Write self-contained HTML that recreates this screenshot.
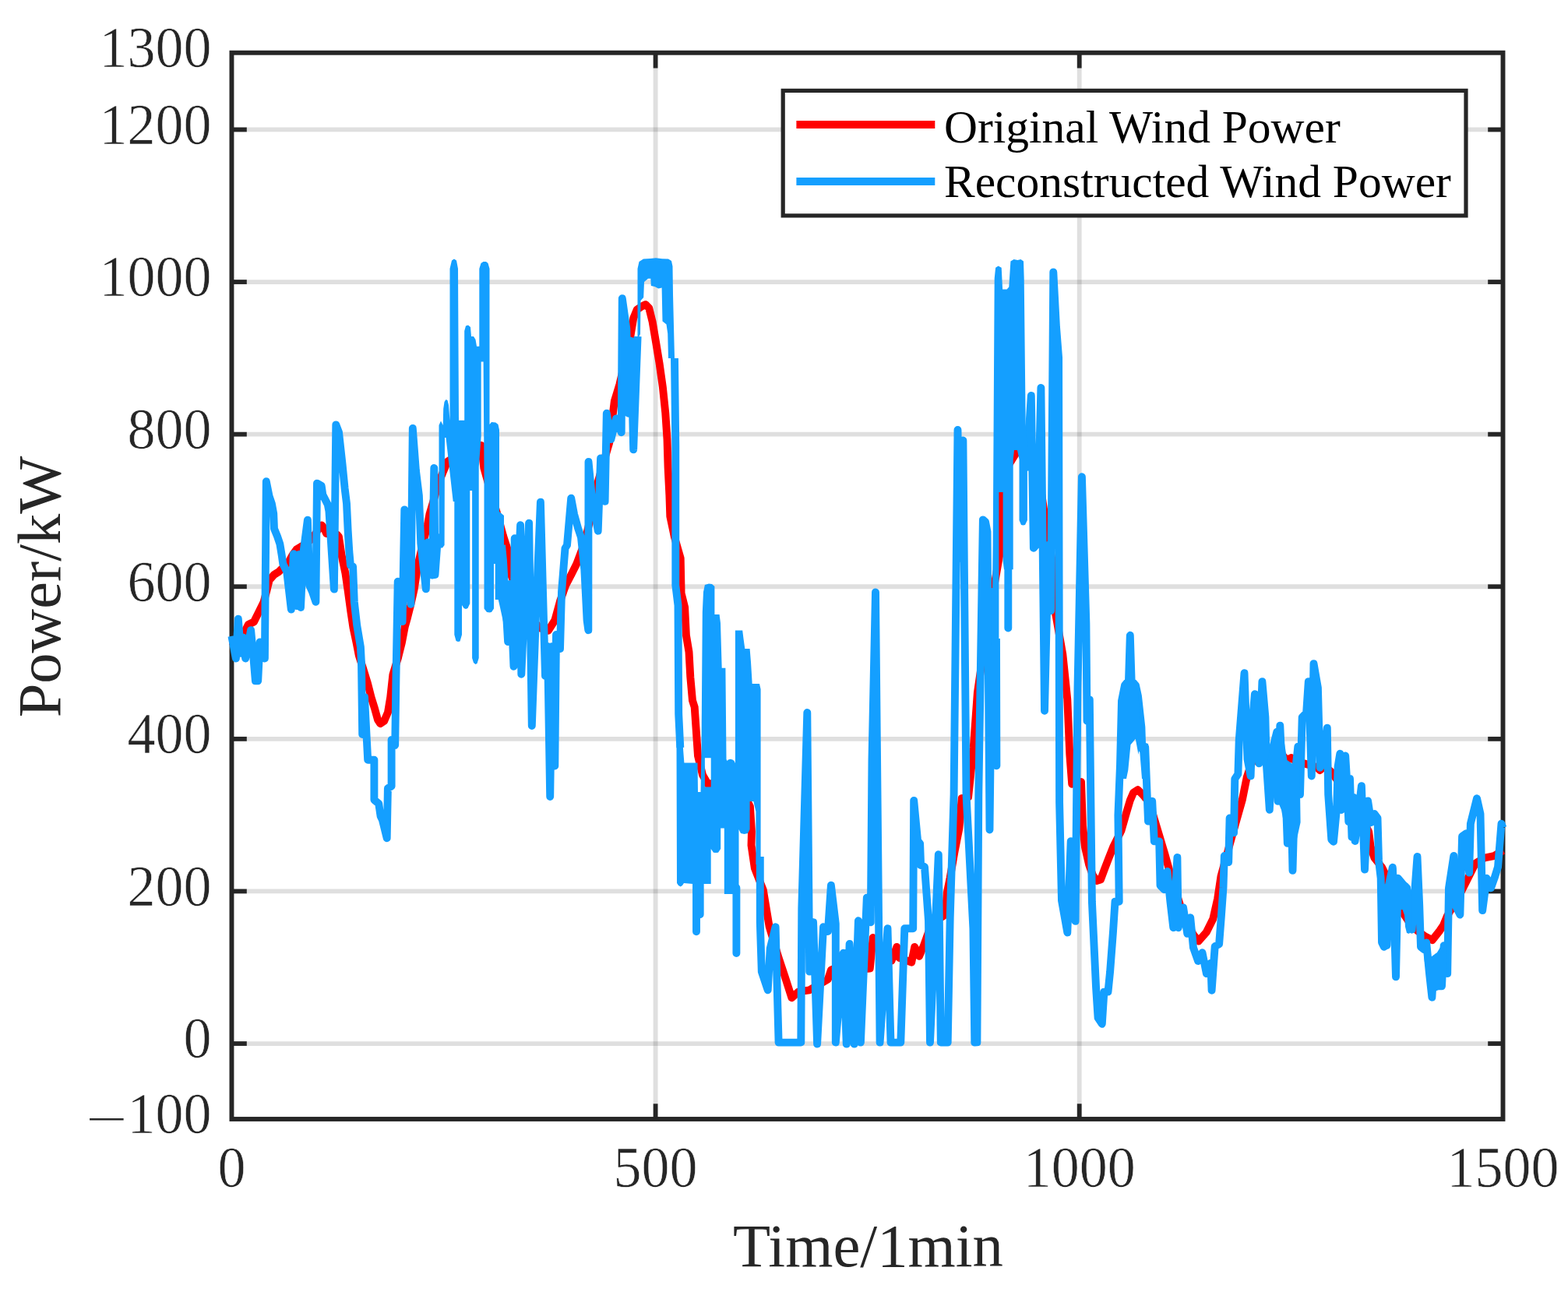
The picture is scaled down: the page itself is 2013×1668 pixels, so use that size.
<!DOCTYPE html>
<html><head><meta charset="utf-8"><title>Wind Power</title>
<style>html,body{margin:0;padding:0;background:#fff;overflow:hidden}svg{display:block}</style></head>
<body><svg width="2013" height="1668" viewBox="0 0 2013 1668">
<rect width="2013" height="1668" fill="#fff"/>
<g stroke="#262626" stroke-opacity="0.15" stroke-width="5.8"><line x1="297.5" y1="1340.05" x2="1929.5" y2="1340.05"/><line x1="297.5" y1="1144.45" x2="1929.5" y2="1144.45"/><line x1="297.5" y1="948.85" x2="1929.5" y2="948.85"/><line x1="297.5" y1="753.25" x2="1929.5" y2="753.25"/><line x1="297.5" y1="557.65" x2="1929.5" y2="557.65"/><line x1="297.5" y1="362.05" x2="1929.5" y2="362.05"/><line x1="297.5" y1="166.45" x2="1929.5" y2="166.45"/><line x1="841.58" y1="67.75" x2="841.58" y2="1437"/><line x1="1385.70" y1="67.75" x2="1385.70" y2="1437"/></g>
<g stroke="#262626" stroke-width="5.8"><line x1="297.5" y1="1340.05" x2="316.8" y2="1340.05"/><line x1="1910.2" y1="1340.05" x2="1929.5" y2="1340.05"/><line x1="297.5" y1="1144.45" x2="316.8" y2="1144.45"/><line x1="1910.2" y1="1144.45" x2="1929.5" y2="1144.45"/><line x1="297.5" y1="948.85" x2="316.8" y2="948.85"/><line x1="1910.2" y1="948.85" x2="1929.5" y2="948.85"/><line x1="297.5" y1="753.25" x2="316.8" y2="753.25"/><line x1="1910.2" y1="753.25" x2="1929.5" y2="753.25"/><line x1="297.5" y1="557.65" x2="316.8" y2="557.65"/><line x1="1910.2" y1="557.65" x2="1929.5" y2="557.65"/><line x1="297.5" y1="362.05" x2="316.8" y2="362.05"/><line x1="1910.2" y1="362.05" x2="1929.5" y2="362.05"/><line x1="297.5" y1="166.45" x2="316.8" y2="166.45"/><line x1="1910.2" y1="166.45" x2="1929.5" y2="166.45"/><line x1="841.58" y1="1437" x2="841.58" y2="1417.3"/><line x1="841.58" y1="67.75" x2="841.58" y2="87.5"/><line x1="1385.70" y1="1437" x2="1385.70" y2="1417.3"/><line x1="1385.70" y1="67.75" x2="1385.70" y2="87.5"/></g>
<rect x="297.45" y="67.75" width="1632.05" height="1369.25" fill="none" stroke="#262626" stroke-width="5.9"/>
<polyline fill="none" stroke="#ff0000" stroke-width="9.9" stroke-linejoin="round" stroke-linecap="butt" points="297.4,830.8 304.0,824.0 311.6,816.4 318.8,802.0 326.0,798.5 333.1,784.1 338.5,773.3 342.0,760.0 345.7,745.0 351.8,738.0 357.8,734.3 362.6,729.5 371.0,721.0 376.0,712.0 380.6,705.5 386.5,701.9 392.0,699.0 400.0,692.0 406.0,684.0 410.0,677.0 413.0,674.5 416.0,678.0 419.0,685.0 424.8,686.0 432.7,686.5 434.9,689.0 438.5,712.4 443.5,736.6 447.0,760.9 450.3,785.2 453.5,806.2 457.6,825.6 460.8,841.8 466.0,858.0 472.0,877.4 476.5,895.2 481.0,909.8 485.0,924.3 488.3,929.2 493.1,926.0 498.0,914.6 501.2,895.2 504.4,866.1 510.9,845.0 515.8,825.6 519.8,804.6 523.0,793.3 527.1,777.1 531.8,756.1 536.4,726.0 541.7,703.0 548.9,674.0 551.5,660.0 556.0,645.0 563.0,620.0 574.3,592.9 579.2,589.6 590.0,580.0 600.0,575.0 610.0,570.0 618.0,572.0 621.3,601.0 630.0,632.0 639.8,665.0 646.0,688.0 651.3,704.4 653.0,730.6 665.0,760.0 680.0,790.0 692.0,806.0 704.0,809.7 712.3,796.5 719.0,772.0 726.0,752.0 733.8,737.0 740.3,724.0 750.2,697.7 757.0,670.0 761.7,648.3 764.4,630.6 773.0,600.0 782.2,568.5 788.8,515.3 795.5,493.1 802.0,465.0 808.8,435.3 813.2,408.7 817.7,397.6 824.3,393.2 828.8,391.0 833.2,395.4 837.6,413.1 842.1,439.7 846.5,466.3 850.9,497.4 854.3,530.6 856.5,563.9 857.6,600.0 859.4,636.0 860.3,662.9 866.0,690.0 873.7,716.8 874.6,761.7 879.1,779.6 880.9,815.6 884.5,837.1 886.3,869.4 889.0,899.6 891.7,908.1 896.0,970.6 902.0,995.0 909.0,1007.3 925.0,1003.0 941.3,1005.2 955.0,1020.0 962.9,1035.4 965.0,1067.7 964.5,1085.3 968.9,1115.0 979.8,1142.7 987.7,1190.2 999.6,1229.8 1007.5,1253.5 1016.4,1281.2 1025.3,1273.3 1039.2,1271.3 1062.9,1257.5 1066.9,1245.6 1080.0,1240.0 1100.0,1245.0 1116.8,1243.6 1120.7,1204.0 1134.6,1227.8 1144.5,1233.7 1151.4,1215.9 1154.4,1229.8 1170.2,1235.7 1174.2,1215.9 1180.1,1227.8 1186.0,1213.9 1195.9,1186.2 1213.7,1174.4 1215.7,1146.7 1219.7,1126.9 1225.6,1093.2 1231.4,1063.8 1234.7,1025.2 1243.1,1023.5 1249.8,959.7 1254.9,889.2 1265.0,820.0 1275.0,760.0 1283.8,709.6 1285.7,636.7 1293.0,600.0 1304.9,581.1 1315.0,578.0 1325.0,580.0 1335.0,620.0 1343.2,675.0 1352.8,732.6 1353.8,780.5 1364.3,840.0 1368.1,876.4 1370.3,898.2 1373.3,968.6 1376.2,1006.8 1388.0,1004.0 1390.0,1060.0 1393.0,1088.0 1398.0,1110.0 1403.0,1124.0 1408.0,1131.0 1413.0,1129.6 1418.0,1116.0 1422.9,1103.2 1429.5,1086.7 1439.4,1066.9 1446.0,1043.8 1450.9,1027.4 1455.0,1018.0 1460.8,1014.2 1467.4,1020.8 1475.6,1030.7 1485.5,1063.6 1495.4,1096.6 1503.7,1126.3 1515.0,1162.0 1525.0,1187.0 1532.0,1200.0 1538.7,1208.5 1548.8,1197.0 1557.4,1179.7 1563.2,1153.8 1567.5,1125.0 1581.0,1076.0 1594.8,1027.2 1600.6,998.4 1606.0,982.0 1612.1,969.6 1620.0,964.0 1632.5,961.4 1645.0,968.0 1652.0,976.0 1657.6,973.0 1663.0,977.0 1680.0,982.0 1690.5,985.0 1694.5,989.0 1698.0,986.0 1701.0,984.3 1710.7,992.6 1723.1,1011.9 1738.0,1034.4 1745.0,1045.0 1752.0,1057.0 1757.2,1068.0 1759.6,1087.0 1764.4,1101.5 1774.0,1113.5 1777.6,1120.7 1778.8,1127.9 1793.2,1159.1 1800.4,1171.1 1810.0,1185.5 1819.6,1195.1 1829.2,1202.3 1838.8,1207.1 1848.3,1195.1 1853.1,1187.9 1858.0,1176.0 1872.3,1151.9 1882.0,1132.7 1894.0,1108.7 1906.0,1101.5 1918.0,1099.1 1929.5,1092.0"/><path fill="none" stroke="#149fff" stroke-width="9.9" stroke-linejoin="round" stroke-linecap="butt" d="M297.4,816.7 L302.9,845.5 L305.8,794.7 L309.2,838.8 L312.3,818.7 L315.1,845.5 L322.1,809.1 L325.0,840.0 L327.9,874.3 L331.2,874.3 L333.6,824.4 L337.0,842.0 L339.9,845.5 L341.8,618.2 L345.5,636.8 L348.8,646.5 L351.2,659.5 L352.0,678.9 L356.0,688.6 L359.3,698.3 L361.7,712.9 L363.3,724.2 L368.2,733.9 L373.8,782.5 L376.8,711.3 L381.0,778.0 L384.0,712.0 L386.0,780.0 L389.2,711.3 L394.9,667.6 L397.3,751.7 L401.0,760.0 L405.4,772.8 L407.0,620.6 L412.7,623.9 L414.3,635.2 L420.8,648.1 L422.4,656.2 L428.9,756.6 L431.3,545.4 L435.0,555.0 L439.4,594.7 L442.6,627.1 L445.0,646.5 L446.7,682.1 L448.3,708.0 L449.9,725.8 L453.1,727.4 L454.8,772.8 L458.2,802.8 L462.9,830.8 L464.0,851.9 L465.2,943.0 L468.0,895.0 L472.2,975.7 L480.4,975.7 L480.4,1027.1 L486.2,1031.8 L488.6,1048.1 L490.9,1052.8 L496.7,1076.2 L497.9,1012.1 L502.6,1009.7 L502.6,950.0 L507.2,957.0 L508.4,872.9 L510.7,746.7 L516.6,798.1 L519.3,654.4 L523.0,740.0 L527.4,775.8 L529.8,550.0 L533.9,604.2 L537.9,636.6 L540.3,698.0 L546.8,756.4 L549.2,696.5 L554.9,738.6 L557.3,600.9 L558.5,738.0 L562.0,690.0 L565.4,696.5 M644.0,700.0 L646.0,720.0 L652.1,824.0 L655.0,750.0 L659.5,855.9 L660.7,691.3 L664.0,760.0 L668.1,674.1 L669.3,865.7 L674.0,760.0 L679.1,671.6 L682.8,932.0 L688.0,790.0 L693.9,644.6 L697.0,760.0 L700.0,868.0 L703.0,830.0 L706.2,1023.0 L709.0,830.0 L712.3,983.6 L714.0,815.0 L719.0,833.0 L721.0,760.0 L725.5,704.0 L728.0,700.0 L733.2,639.7 L737.0,660.0 L742.0,678.0 L746.0,690.0 L750.3,731.0 L753.6,796.7 L755.3,809.2 L755.5,592.9 L760.0,640.0 L764.0,660.0 L767.7,681.7 L771.1,588.5 L776.6,643.9 L778.8,530.8 L784.4,564.1 L791.0,537.4 L797.7,555.2 L798.8,383.2 L804.3,422.1 L806.6,530.8 L809.9,437.6 L813.2,577.4 L818.6,432.0 M866.0,460.0 L867.3,572.4 L867.3,751.5 L870.5,777.4 L871.2,916.7 L873.3,960.0 M975.8,1100.0 L975.8,1184.3 L977.8,1247.6 L985.7,1271.3 L988.7,1217.9 L995.6,1190.2 L999.6,1338.6 L1028.3,1338.6 L1029.3,1166.4 L1036.3,915.0 L1039.2,1247.6 L1044.1,1184.3 L1049.1,1340.6 L1057.0,1190.2 L1062.9,1196.1 L1066.9,1136.8 L1072.8,1186.2 L1072.8,1338.6 L1082.7,1223.8 L1086.7,1340.6 L1090.6,1212.0 L1096.6,1340.6 L1101.9,1182.3 L1104.9,1338.6 L1112.8,1152.6 L1117.8,1184.3 L1119.5,975.0 L1124.0,760.4 L1129.6,1338.6 L1139.5,1192.2 L1143.5,1338.6 L1156.3,1338.6 L1161.3,1192.2 L1172.2,1192.2 L1173.2,1027.9 L1178.1,1079.4 L1181.1,1083.3 L1182.1,1111.0 L1187.0,1113.0 L1192.0,1182.3 L1194.0,1338.6 L1204.8,1097.2 L1207.8,1338.6 L1216.7,1338.6 L1219.7,1178.3 L1224.6,1020.0 L1229.5,552.0 L1231.9,716.9 L1236.4,565.5 L1240.5,1020.0 L1249.4,1192.2 L1251.3,1338.6 L1254.4,1338.4 L1256.3,1020.0 L1261.9,667.4 L1265.0,670.0 L1267.5,682.7 L1270.5,1065.5 L1274.0,760.0 L1279.4,983.3 L1279.0,820.0 M1313.5,600.0 L1318.0,600.0 L1323.8,508.0 L1326.9,703.8 L1331.7,698.0 L1336.4,497.9 L1341.0,912.8 L1346.0,700.0 L1349.0,784.4 L1352.3,349.4 L1356.0,420.0 L1359.1,459.3 L1360.1,1030.2 L1363.0,1156.4 L1370.3,1197.5 L1374.7,1080.1 L1380.6,1182.9 L1383.5,883.5 L1388.9,612.2 L1394.4,800.8 L1395.5,925.8 L1398.8,898.4 L1401.9,1157.7 L1407.1,1268.5 L1409.6,1307.1 L1414.8,1314.8 L1417.4,1273.6 L1422.5,1273.6 L1425.1,1247.8 L1429.0,1196.3 L1431.5,1157.7 L1436.7,1157.7 L1435.4,1046.9 L1438.0,982.5 L1440.0,900.0 L1444.0,880.0 L1449.0,874.0 L1450.8,816.0 L1452.6,874.0 L1458.0,880.0 L1461.0,894.0 L1465.4,933.9 L1466.3,961.8 L1470.2,959.3 L1474.0,1054.6 L1479.2,1028.8 L1481.8,1080.4 L1488.2,1080.4 L1489.5,1137.0 L1494.7,1142.2 L1498.5,1119.0 L1502.4,1157.7 L1506.3,1191.2 L1511.4,1101.0 L1512.7,1191.2 L1519.1,1165.4 L1524.3,1198.9 L1528.2,1178.3 L1532.0,1216.9 L1538.1,1234.0 L1543.5,1223.2 L1548.9,1250.2 L1554.3,1236.7 L1555.6,1271.7 L1559.7,1215.1 L1565.1,1212.4 L1567.8,1177.3 L1570.5,1139.5 L1571.8,1099.0 L1577.2,1107.1 L1578.6,1050.5 L1584.0,1069.4 L1585.3,1000.2 L1589.4,993.8 L1590.7,950.6 L1597.5,864.3 L1601.5,974.9 L1605.6,996.5 L1608.3,921.0 L1610.9,891.3 L1616.3,980.3 L1620.4,875.1 L1624.4,921.0 L1625.8,980.3 L1629.8,1039.7 L1633.9,961.4 L1639.3,939.8 L1640.6,1028.9 L1643.3,931.7 L1646.0,991.1 L1650.1,1007.3 L1652.8,1082.9 L1656.8,996.5 L1659.5,1117.9 L1663.0,990.0 L1666.3,958.7 L1669.0,1020.0 L1671.7,921.0 L1677.1,915.6 L1679.8,875.1 L1683.8,996.5 L1686.5,852.1 L1691.9,883.2 L1694.6,985.7 L1698.3,978.8 L1703.8,934.7 L1705.2,1020.1 L1709.3,1078.0 L1712.0,1080.8 L1716.2,1036.7 L1717.6,984.3 L1720.3,967.8 L1722.0,1040.0 L1724.0,975.0 L1727.2,970.5 L1729.0,1000.0 L1731.3,1055.0 L1733.0,1000.0 L1735.5,1075.0 L1737.6,1024.0 L1739.6,1080.0 L1747.9,1009.1 L1752.0,1116.6 L1756.1,1028.4 L1760.3,1056.0 L1764.4,1044.9 L1768.5,1050.4 L1770.0,1105.0 L1772.7,1127.6 L1774.0,1210.0 L1776.8,1215.8 L1778.5,1140.0 L1780.5,1214.0 L1782.0,1141.0 L1787.8,1113.8 L1792.0,1254.4 L1794.7,1127.6 L1801.6,1135.9 L1806.0,1140.0 L1812.6,1193.7 L1819.5,1100.0 L1822.2,1161.9 L1824.0,1215.9 L1828.5,1219.5 L1831.2,1210.5 L1835.0,1250.0 L1838.4,1280.7 L1841.1,1232.1 L1845.6,1228.5 L1847.4,1266.3 L1851.0,1266.3 L1853.7,1214.1 L1858.2,1250.1 L1860.0,1140.3 L1866.3,1099.0 L1868.1,1161.9 L1874.4,1174.5 L1877.1,1073.8 L1882.5,1070.2 L1886.1,1120.5 L1887.9,1057.6 L1896.0,1025.2 L1900.5,1045.0 L1903.2,1169.1 L1908.6,1127.7 L1914.0,1140.3 L1918.5,1127.7 L1923.0,1113.3 L1927.5,1057.6 L1929.5,1063.0"/><path fill="none" stroke="#149fff" stroke-width="9.9" stroke-linecap="round" d="M894.0,1130.0 L894.0,1196.2 M898.7,1130.0 L898.7,1174.2 M945.4,1140.0 L945.4,1224.1 M1294.3,731.0 L1294.3,806.5"/><path fill="#149fff" fill-rule="evenodd" d="M563.5,700.0 L563.5,546.0 L566.0,540.5 L568.7,546.0 L569.2,525.0 L570.5,516.0 L572.5,513.0 L574.5,514.0 L576.0,520.0 L577.5,540.0 L577.5,345.0 L580.0,334.5 L583.0,332.5 L586.0,334.5 L588.0,345.0 L589.0,539.7 L596.2,539.7 L596.2,425.0 L598.0,418.5 L601.0,417.5 L604.0,420.0 L605.0,432.0 L608.0,432.0 L610.5,436.0 L612.0,444.8 L615.3,444.8 L615.3,345.0 L617.5,338.0 L620.5,336.0 L624.0,336.0 L626.5,338.0 L628.5,345.0 L628.5,545.0 L631.0,542.0 L636.3,542.6 L639.5,545.0 L641.0,552.0 L641.0,657.0 L644.0,659.4 L647.0,662.0 L647.0,803.0 L642.0,780.0 L639.7,770.0 L635.7,770.0 L635.7,724.0 L634.0,724.0 L634.0,781.4 L631.0,786.0 L628.5,786.5 L625.0,786.0 L621.5,781.4 L621.5,600.0 L620.6,464.6 L617.7,464.6 L617.7,560.0 L614.7,600.0 L614.7,845.0 L612.5,852.0 L610.4,853.0 L608.0,851.0 L606.1,845.0 L606.1,630.0 L603.3,630.0 L603.3,775.0 L600.5,781.0 L598.0,782.0 L595.5,781.0 L593.0,777.0 L593.0,815.0 L590.5,823.5 L588.0,824.0 L585.5,823.0 L583.3,815.0 L583.3,644.0 L581.7,644.0 L572.5,562.0 L571.0,562.0 L570.6,700.0 L568.0,703.5 L566.0,703.5 Z"/><path fill="#149fff" fill-rule="evenodd" d="M818.5,432.0 L818.5,345.0 L820.5,336.0 L826.0,332.6 L835.0,332.0 L842.0,331.3 L850.0,332.3 L858.0,332.6 L862.0,335.0 L863.5,342.0 L864.0,378.0 L866.0,460.0 L858.0,460.0 L857.2,428.3 L855.5,416.6 L850.5,412.4 L849.6,369.5 L845.4,370.4 L840.4,367.9 L835.8,367.0 L835.3,357.8 L832.0,357.8 L827.0,362.0 L826.2,382.0 L822.5,386.0 L822.0,429.0 L820.0,433.0 Z"/><path fill="#149fff" fill-rule="evenodd" d="M868.5,955.0 L876.5,955.0 L878.4,979.5 L895.5,979.5 L896.0,1017.0 L899.5,1017.0 L900.5,960.0 L901.8,786.0 L903.0,760.0 L904.9,751.0 L910.0,749.5 L914.0,750.0 L917.4,753.0 L917.4,789.0 L923.6,789.0 L925.0,800.0 L926.7,857.8 L931.4,857.8 L932.5,975.0 L933.5,977.0 L935.0,975.5 L937.6,974.8 L940.5,975.5 L942.5,977.0 L943.9,980.0 L943.9,809.5 L953.2,809.5 L954.5,820.0 L956.3,832.9 L962.6,832.9 L964.0,850.0 L965.7,878.1 L975.0,878.1 L976.6,885.0 L976.6,1110.0 L970.4,1110.0 L970.4,1042.0 L967.3,1029.0 L962.6,1029.0 L962.6,1065.0 L960.0,1069.9 L955.5,1071.0 L951.0,1069.9 L948.5,1065.0 L948.5,1148.0 L929.8,1148.0 L929.8,1063.6 L925.2,1063.6 L925.2,1090.0 L922.0,1094.8 L919.0,1095.0 L916.0,1094.8 L912.7,1090.0 L912.7,1135.0 L889.3,1135.0 L878.0,1134.0 L876.0,1137.0 L873.7,1138.5 L871.0,1137.0 L869.0,1134.0 Z M904.9,973.2 L912.7,973.2 L912.7,1010.6 L904.9,1010.6 Z"/><path fill="#149fff" fill-rule="evenodd" d="M1276.7,357.6 L1278.1,343.8 L1281.6,341.5 L1285.7,343.8 L1287.1,371.4 L1292.6,371.4 L1295.3,368.6 L1297.4,335.5 L1301.6,333.0 L1306.4,334.1 L1310.5,333.0 L1314.0,335.5 L1314.7,357.6 L1316.7,543.8 L1318.9,575.0 L1318.9,668.0 L1316.0,673.9 L1313.5,674.5 L1311.0,673.9 L1308.5,668.0 L1308.5,590.0 L1306.0,578.0 L1302.0,578.0 L1300.7,590.0 L1300.7,731.3 L1289.0,731.3 L1287.6,720.0 L1287.6,632.0 L1282.4,632.0 L1282.4,830.0 L1273.0,830.0 L1274.7,700.0 Z"/><path fill="#149fff" fill-rule="evenodd" d="M1434.4,1000.0 L1434.4,979.0 L1437.6,975.0 L1437.6,895.0 L1438.5,893.0 L1441.4,890.8 L1441.4,880.7 L1443.9,878.2 L1443.9,873.2 L1446.4,870.6 L1447.4,815.0 L1449.0,811.5 L1450.8,810.5 L1452.7,811.5 L1454.2,815.0 L1455.2,870.6 L1459.0,874.4 L1460.9,876.9 L1461.5,890.8 L1462.8,917.2 L1465.3,932.4 L1469.1,938.7 L1469.7,953.8 L1474.1,955.0 L1474.8,1000.0 L1466.0,1000.0 L1462.8,960.0 L1461.5,968.9 L1457.8,948.7 L1451.5,956.3 L1448.3,989.0 L1446.0,1000.0 Z"/><path fill="#149fff" fill-rule="evenodd" d="M1820.8,1212.0 L1827.0,1213.9 L1828.8,1213.9 L1835.6,1229.8 L1843.6,1225.3 L1850.4,1213.9 L1856.0,1212.0 L1856.1,1252.6 L1852.7,1268.6 L1842.4,1273.1 L1837.9,1283.4 L1833.3,1270.8 L1831.0,1248.0 L1828.8,1234.4 L1827.6,1221.9 Z"/><path fill="#149fff" fill-rule="evenodd" d="M1785.5,1125.0 L1787.0,1114.5 L1790.0,1112.5 L1792.5,1114.5 L1793.5,1125.0 L1797.0,1127.0 L1800.0,1132.0 L1807.0,1134.0 L1810.5,1138.0 L1811.7,1150.0 L1811.7,1195.0 L1809.0,1199.0 L1806.0,1198.0 L1804.0,1190.0 L1803.0,1175.0 L1800.5,1168.0 L1797.5,1168.0 L1797.0,1200.0 L1785.5,1200.0 Z"/><path fill="#149fff" fill-rule="evenodd" d="M1625.0,990.0 L1630.0,962.0 L1636.5,942.0 L1643.7,931.0 L1648.0,948.0 L1652.4,976.0 L1661.0,982.0 L1665.3,963.0 L1668.2,960.0 L1669.6,1056.0 L1663.9,1082.0 L1659.6,1116.0 L1652.4,1080.0 L1645.0,1040.0 L1640.9,1030.0 L1635.1,1021.0 L1629.4,1040.0 L1625.5,1010.0 Z"/>
<rect x="1005.2" y="116.4" width="876.8" height="160.5" fill="#fff" stroke="#262626" stroke-width="5.2"/>
<line x1="1022.4" y1="160" x2="1200.3" y2="160" stroke="#ff0000" stroke-width="9.9"/>
<line x1="1022.4" y1="233.05" x2="1200.3" y2="233.05" stroke="#149fff" stroke-width="9.9"/>
<g font-family="Liberation Serif, serif" font-size="59.5" fill="#000">
<text x="1212" y="182.6">Original Wind Power</text>
<text x="1212" y="253.2">Reconstructed Wind Power</text></g>
<g font-family="Liberation Serif, serif" font-size="72" fill="#262626" stroke="#fff" stroke-width="0.6"><text transform="translate(271.5,86.0) scale(1,1.04)" text-anchor="end">1300</text><text transform="translate(271.5,184.8) scale(1,1.04)" text-anchor="end">1200</text><text transform="translate(271.5,380.3) scale(1,1.04)" text-anchor="end">1000</text><text transform="translate(271.5,575.9) scale(1,1.04)" text-anchor="end">800</text><text transform="translate(271.5,771.5) scale(1,1.04)" text-anchor="end">600</text><text transform="translate(271.5,967.1) scale(1,1.04)" text-anchor="end">400</text><text transform="translate(271.5,1162.8) scale(1,1.04)" text-anchor="end">200</text><text transform="translate(271.5,1358.3) scale(1,1.04)" text-anchor="end">0</text><text transform="translate(271.5,1455.3) scale(1,1.04)" text-anchor="end">100</text><text transform="translate(110.5,1452.5) scale(1.3,0.65)" stroke="none">−</text><text transform="translate(297.4,1524.3) scale(1,1.04)" text-anchor="middle">0</text><text transform="translate(841.6,1524.3) scale(1,1.04)" text-anchor="middle">500</text><text transform="translate(1385.7,1524.3) scale(1,1.04)" text-anchor="middle">1000</text><text transform="translate(1929.5,1524.3) scale(1,1.04)" text-anchor="middle">1500</text></g>
<text x="1114.5" y="1626.3" text-anchor="middle" font-family="Liberation Serif, serif" font-size="78.7" fill="#262626">Time/1min</text>
<text transform="translate(76.6,753.5) rotate(-90)" text-anchor="middle" font-family="Liberation Serif, serif" font-size="78.5" fill="#262626">Power/kW</text>
</svg></body></html>
